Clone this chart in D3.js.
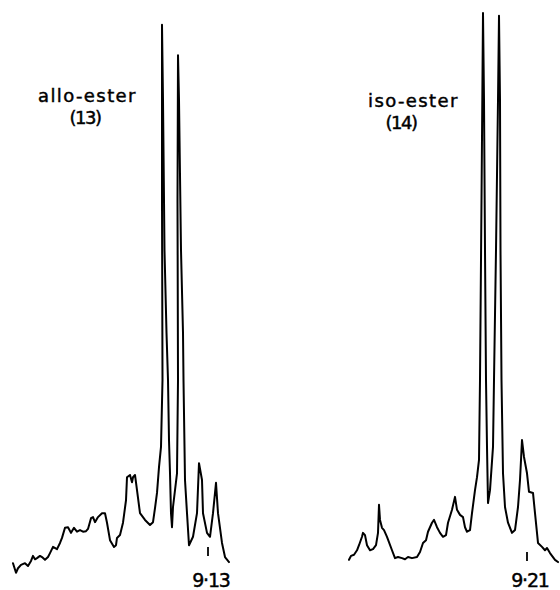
<!DOCTYPE html>
<html>
<head>
<meta charset="utf-8">
<script src="https://cdn.jsdelivr.net/npm/d3@7"></script>
<style>
  body { margin: 0; background: #fff; }
  svg { display: block; }
  text { font-family: "DejaVu Sans", sans-serif; fill: #000; stroke: #000; stroke-width: 0.45px; }
</style>
</head>
<body>
<svg id="chart" width="560" height="590"></svg>
<script>
// traces: [position (div), intensity (% of tallest line)]
const alloTrace = [
  [3,2.1],[6,0.4],[8,1.2],[11,1.8],[15,2.1],[18,1.6],[21,2.5],[23,3.4],[25,2.8],[27,3.0],
  [30,3.4],[32,3.2],[35,2.7],[38,3.2],[40,3.9],[43,5.0],[47,4.6],[50,5.7],[52,6.6],[55,8.4],
  [58,8.5],[61,7.5],[64,8.4],[67,7.7],[70,8.0],[73,7.7],[76,7.8],[78,8.2],[81,10.1],[83,10.3],
  [85,9.4],[88,10.3],[92,11.0],[95,11.0],[97,9.3],[100,6.2],[104,5.0],[106,5.3],[107,6.6],
  [110,7.1],[113,9.3],[116,13.3],[117,17.4],[120,17.8],[122,16.5],[123,17.4],[125,17.8],
  [127,15.1],[130,11.0],[135,9.8],[140,8.9],[143,9.4],[145,11.9],[147,14.6],[149,19.2],
  [151,22.8],[152.5,34.7],[152,66.7],[152,97.9],[153,84.5],[154.5,57.8],[156.5,43.1],
  [158,34.7],[159,24.0],[160,18.1],[161,11.0],[162,8.5],[163,12.1],[167,18.1],[168,34.7],
  [167.5,66.7],[168,92.5],[169,84.5],[171,57.8],[173,43.1],[173.5,34.7],[175,16.9],
  [177,11.0],[179,5.3],[183,6.8],[187,11.0],[189,19.9],[192,16.9],[193,11.0],[197,7.5],
  [200,6.8],[203,11.0],[206,16.4],[208,11.0],[212,5.7],[215,3.2],[219,2.3]
];

const isoTrace = [
  [9,2.7],[11,3.4],[14,3.6],[17,4.4],[19,5.3],[22,6.8],[23,7.5],[25,7.1],[27,5.3],[30,4.4],
  [33,4.6],[36,5.3],[38,7.5],[39,12.5],[40,9.8],[42,8.4],[44,8.0],[47,6.8],[52,4.4],[55,3.0],
  [58,3.2],[62,3.0],[65,2.8],[68,3.2],[72,3.0],[77,3.2],[80,4.1],[83,5.7],[86,6.2],[88,7.7],
  [92,9.3],[94,9.8],[97,8.5],[100,7.5],[103,6.8],[106,7.1],[108,9.3],[112,11.6],[115,13.9],
  [117,11.6],[120,10.7],[123,10.3],[125,8.5],[127,7.7],[130,8.0],[132,11.0],[135,15.1],
  [137,17.4],[139,20.5],[140,34.7],[141.5,66.7],[143,100],[144,84.5],[145,57.8],[146,34.7],
  [147,22.8],[148,12.8],[150,15.1],[153,22.8],[154,34.7],[156,57.8],[158,84.5],[159,99.5],
  [160,84.5],[160.5,57.8],[161.5,34.7],[163,18.1],[165,12.1],[168,9.3],[172,7.5],[175,8.0],
  [178,12.1],[180,16.9],[182,24.0],[184,21.0],[187,18.1],[189,14.8],[193,14.6],[195,11.0],
  [198,5.7],[202,5.0],[205,4.4],[207,4.8],[210,3.9],[215,2.7],[218,2.3]
];

const spectrumNames = ["allo-ester", "iso-ester"];
const compoundNumbers = ["(13)", "(14)"];
const markerLabels = ["9·13", "9·21"];
const markerPos = [198, 187];       // position of the reference mark under each trace
const markerLevel = [5.0, 4.1];     // intensity where the mark starts

const svg = d3.select("#chart");

const y_scale = d3.scaleLinear().domain([0, 100]).range([575, 13]);

var panels = [
  {trace: alloTrace, x: d3.scaleLinear().domain([0, 220]).range([10, 230]),
   nameX: 38, nameY: 102, numX: 85, numY: 124},
  {trace: isoTrace, x: d3.scaleLinear().domain([0, 220]).range([340, 560]),
   nameX: 368, nameY: 107, numX: 401, numY: 129}
];

panels.forEach(function(p, i) {
  var g = svg.append("g").attr("class", "panel");

  var line = d3.line()
    .x(d => p.x(d[0]))
    .y(d => y_scale(d[1]));

  g.append("path")
    .datum(p.trace)
    .attr("d", line)
    .attr("fill", "none")
    .attr("stroke", "#000")
    .attr("stroke-width", 2)
    .attr("stroke-linejoin", "round")
    .attr("stroke-linecap", "round");

  // reference mark and its shift value
  var mx = p.x(markerPos[i]);
  var my = y_scale(markerLevel[i]);
  g.append("line")
    .attr("x1", mx).attr("x2", mx)
    .attr("y1", my).attr("y2", my + 9)
    .attr("stroke", "#000")
    .attr("stroke-width", 1.8);

  g.append("text")
    .attr("x", mx + 3)
    .attr("y", 587)
    .attr("text-anchor", "middle")
    .attr("font-size", "19px")
    .attr("letter-spacing", "-1.2px")
    .text(markerLabels[i]);

  // compound label
  g.append("text")
    .attr("x", p.nameX)
    .attr("y", p.nameY)
    .attr("font-size", "18px")
    .attr("letter-spacing", "1.4px")
    .text(spectrumNames[i]);

  g.append("text")
    .attr("x", p.numX)
    .attr("y", p.numY)
    .attr("text-anchor", "middle")
    .attr("font-size", "18px")
    .attr("letter-spacing", "-1.5px")
    .text(compoundNumbers[i]);
});
</script>
</body>
</html>
